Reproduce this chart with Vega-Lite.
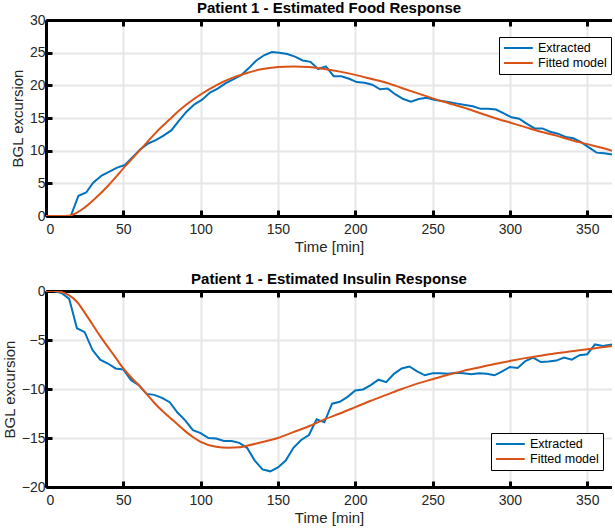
{
  "$schema": "https://vega.github.io/schema/vega-lite/v6.json",
  "padding": {"left": 2, "top": 0, "right": 0, "bottom": 0},
  "background": "white",
  "datasets": {
    "food": [
      {"t": 0, "v": 0, "s": "Extracted"}, {"t": 5, "v": 0, "s": "Extracted"}, {"t": 10, "v": 0, "s": "Extracted"}, {"t": 16, "v": 0, "s": "Extracted"},
      {"t": 21, "v": 3.1, "s": "Extracted"}, {"t": 26, "v": 3.6, "s": "Extracted"}, {"t": 30.5, "v": 5.1, "s": "Extracted"}, {"t": 36, "v": 6.2, "s": "Extracted"},
      {"t": 41, "v": 6.8, "s": "Extracted"}, {"t": 46, "v": 7.4, "s": "Extracted"}, {"t": 51, "v": 7.8, "s": "Extracted"}, {"t": 56, "v": 9.0, "s": "Extracted"},
      {"t": 61, "v": 10.2, "s": "Extracted"}, {"t": 66, "v": 11.1, "s": "Extracted"}, {"t": 71, "v": 11.6, "s": "Extracted"}, {"t": 76, "v": 12.3, "s": "Extracted"},
      {"t": 81, "v": 13.1, "s": "Extracted"}, {"t": 86, "v": 14.6, "s": "Extracted"}, {"t": 91, "v": 16.0, "s": "Extracted"}, {"t": 96, "v": 17.1, "s": "Extracted"},
      {"t": 101, "v": 17.8, "s": "Extracted"}, {"t": 106, "v": 18.9, "s": "Extracted"}, {"t": 111, "v": 19.5, "s": "Extracted"}, {"t": 116, "v": 20.3, "s": "Extracted"},
      {"t": 121, "v": 20.9, "s": "Extracted"}, {"t": 126, "v": 21.5, "s": "Extracted"}, {"t": 131, "v": 22.6, "s": "Extracted"}, {"t": 136, "v": 23.8, "s": "Extracted"},
      {"t": 141, "v": 24.6, "s": "Extracted"}, {"t": 146, "v": 25.1, "s": "Extracted"}, {"t": 151, "v": 25.0, "s": "Extracted"}, {"t": 156, "v": 24.8, "s": "Extracted"},
      {"t": 161, "v": 24.4, "s": "Extracted"}, {"t": 166, "v": 23.8, "s": "Extracted"}, {"t": 171, "v": 23.6, "s": "Extracted"}, {"t": 176, "v": 22.5, "s": "Extracted"},
      {"t": 181, "v": 22.9, "s": "Extracted"}, {"t": 186, "v": 21.4, "s": "Extracted"}, {"t": 191, "v": 21.4, "s": "Extracted"}, {"t": 196, "v": 21.0, "s": "Extracted"},
      {"t": 201, "v": 20.5, "s": "Extracted"}, {"t": 206, "v": 20.4, "s": "Extracted"}, {"t": 211, "v": 20.1, "s": "Extracted"}, {"t": 216, "v": 19.4, "s": "Extracted"},
      {"t": 221, "v": 19.5, "s": "Extracted"}, {"t": 226, "v": 18.6, "s": "Extracted"}, {"t": 231, "v": 17.9, "s": "Extracted"}, {"t": 236, "v": 17.5, "s": "Extracted"},
      {"t": 241, "v": 17.9, "s": "Extracted"}, {"t": 246, "v": 18.1, "s": "Extracted"}, {"t": 251, "v": 17.8, "s": "Extracted"}, {"t": 256, "v": 17.6, "s": "Extracted"},
      {"t": 261, "v": 17.4, "s": "Extracted"}, {"t": 266, "v": 17.2, "s": "Extracted"}, {"t": 271, "v": 17.0, "s": "Extracted"}, {"t": 276, "v": 16.8, "s": "Extracted"},
      {"t": 281, "v": 16.4, "s": "Extracted"}, {"t": 286, "v": 16.4, "s": "Extracted"}, {"t": 291, "v": 16.3, "s": "Extracted"}, {"t": 296, "v": 15.7, "s": "Extracted"},
      {"t": 301, "v": 15.1, "s": "Extracted"}, {"t": 306, "v": 14.9, "s": "Extracted"}, {"t": 311, "v": 14.1, "s": "Extracted"}, {"t": 316, "v": 13.4, "s": "Extracted"},
      {"t": 321, "v": 13.4, "s": "Extracted"}, {"t": 326, "v": 12.9, "s": "Extracted"}, {"t": 331, "v": 12.6, "s": "Extracted"}, {"t": 336, "v": 12.1, "s": "Extracted"},
      {"t": 341, "v": 11.9, "s": "Extracted"}, {"t": 346, "v": 11.3, "s": "Extracted"}, {"t": 351, "v": 10.5, "s": "Extracted"}, {"t": 356, "v": 9.7, "s": "Extracted"},
      {"t": 361, "v": 9.6, "s": "Extracted"}, {"t": 366, "v": 9.4, "s": "Extracted"},
      {"t": 0, "v": 0, "s": "Fitted model"}, {"t": 10, "v": 0, "s": "Fitted model"}, {"t": 15, "v": 0.05, "s": "Fitted model"}, {"t": 20, "v": 0.5, "s": "Fitted model"},
      {"t": 25, "v": 1.3, "s": "Fitted model"}, {"t": 30, "v": 2.3, "s": "Fitted model"}, {"t": 35, "v": 3.4, "s": "Fitted model"}, {"t": 40, "v": 4.6, "s": "Fitted model"},
      {"t": 45, "v": 5.9, "s": "Fitted model"}, {"t": 50, "v": 7.3, "s": "Fitted model"}, {"t": 55, "v": 8.6, "s": "Fitted model"}, {"t": 60, "v": 9.9, "s": "Fitted model"},
      {"t": 65, "v": 11.2, "s": "Fitted model"}, {"t": 70, "v": 12.5, "s": "Fitted model"}, {"t": 75, "v": 13.7, "s": "Fitted model"}, {"t": 80, "v": 14.8, "s": "Fitted model"},
      {"t": 85, "v": 15.9, "s": "Fitted model"}, {"t": 90, "v": 16.9, "s": "Fitted model"}, {"t": 95, "v": 17.8, "s": "Fitted model"}, {"t": 100, "v": 18.6, "s": "Fitted model"},
      {"t": 110, "v": 20.0, "s": "Fitted model"}, {"t": 120, "v": 21.1, "s": "Fitted model"}, {"t": 130, "v": 21.9, "s": "Fitted model"}, {"t": 140, "v": 22.5, "s": "Fitted model"},
      {"t": 150, "v": 22.8, "s": "Fitted model"}, {"t": 160, "v": 22.9, "s": "Fitted model"}, {"t": 170, "v": 22.8, "s": "Fitted model"}, {"t": 180, "v": 22.5, "s": "Fitted model"},
      {"t": 190, "v": 22.1, "s": "Fitted model"}, {"t": 200, "v": 21.6, "s": "Fitted model"}, {"t": 210, "v": 21.0, "s": "Fitted model"}, {"t": 220, "v": 20.4, "s": "Fitted model"},
      {"t": 230, "v": 19.6, "s": "Fitted model"}, {"t": 240, "v": 18.8, "s": "Fitted model"}, {"t": 250, "v": 18.0, "s": "Fitted model"}, {"t": 260, "v": 17.3, "s": "Fitted model"},
      {"t": 270, "v": 16.6, "s": "Fitted model"}, {"t": 280, "v": 15.8, "s": "Fitted model"}, {"t": 290, "v": 15.0, "s": "Fitted model"}, {"t": 300, "v": 14.3, "s": "Fitted model"},
      {"t": 310, "v": 13.6, "s": "Fitted model"}, {"t": 320, "v": 12.9, "s": "Fitted model"}, {"t": 330, "v": 12.3, "s": "Fitted model"}, {"t": 340, "v": 11.6, "s": "Fitted model"},
      {"t": 350, "v": 11.0, "s": "Fitted model"}, {"t": 360, "v": 10.4, "s": "Fitted model"}, {"t": 366, "v": 10.0, "s": "Fitted model"}
    ],
    "insulin": [
      {"t": 0, "v": 0, "s": "Extracted"}, {"t": 5, "v": 0, "s": "Extracted"}, {"t": 10, "v": -0.2, "s": "Extracted"}, {"t": 15, "v": -0.8, "s": "Extracted"},
      {"t": 20, "v": -3.8, "s": "Extracted"}, {"t": 25, "v": -4.2, "s": "Extracted"}, {"t": 30, "v": -6.0, "s": "Extracted"}, {"t": 35, "v": -7.0, "s": "Extracted"},
      {"t": 40, "v": -7.4, "s": "Extracted"}, {"t": 45, "v": -7.9, "s": "Extracted"}, {"t": 50, "v": -8.0, "s": "Extracted"}, {"t": 55, "v": -9.1, "s": "Extracted"},
      {"t": 60, "v": -9.6, "s": "Extracted"}, {"t": 65, "v": -10.5, "s": "Extracted"}, {"t": 70, "v": -10.6, "s": "Extracted"}, {"t": 75, "v": -10.9, "s": "Extracted"},
      {"t": 80, "v": -11.35, "s": "Extracted"}, {"t": 85, "v": -12.4, "s": "Extracted"}, {"t": 90, "v": -13.2, "s": "Extracted"}, {"t": 95, "v": -14.2, "s": "Extracted"},
      {"t": 100, "v": -14.5, "s": "Extracted"}, {"t": 105, "v": -15.0, "s": "Extracted"}, {"t": 110, "v": -15.05, "s": "Extracted"}, {"t": 115, "v": -15.3, "s": "Extracted"},
      {"t": 120, "v": -15.3, "s": "Extracted"}, {"t": 125, "v": -15.5, "s": "Extracted"}, {"t": 130, "v": -16.0, "s": "Extracted"}, {"t": 135, "v": -17.3, "s": "Extracted"},
      {"t": 140, "v": -18.2, "s": "Extracted"}, {"t": 145, "v": -18.4, "s": "Extracted"}, {"t": 150, "v": -18.0, "s": "Extracted"}, {"t": 155, "v": -17.3, "s": "Extracted"},
      {"t": 160, "v": -16.0, "s": "Extracted"}, {"t": 165, "v": -15.2, "s": "Extracted"}, {"t": 170, "v": -14.7, "s": "Extracted"}, {"t": 175, "v": -13.1, "s": "Extracted"},
      {"t": 180, "v": -13.4, "s": "Extracted"}, {"t": 185, "v": -11.5, "s": "Extracted"}, {"t": 190, "v": -11.3, "s": "Extracted"}, {"t": 195, "v": -10.8, "s": "Extracted"},
      {"t": 200, "v": -10.15, "s": "Extracted"}, {"t": 205, "v": -10.05, "s": "Extracted"}, {"t": 210, "v": -9.6, "s": "Extracted"}, {"t": 215, "v": -9.05, "s": "Extracted"},
      {"t": 220, "v": -9.3, "s": "Extracted"}, {"t": 225, "v": -8.45, "s": "Extracted"}, {"t": 230, "v": -7.9, "s": "Extracted"}, {"t": 235, "v": -7.7, "s": "Extracted"},
      {"t": 240, "v": -8.2, "s": "Extracted"}, {"t": 245, "v": -8.6, "s": "Extracted"}, {"t": 250, "v": -8.4, "s": "Extracted"}, {"t": 255, "v": -8.4, "s": "Extracted"},
      {"t": 260, "v": -8.45, "s": "Extracted"}, {"t": 265, "v": -8.35, "s": "Extracted"}, {"t": 270, "v": -8.4, "s": "Extracted"}, {"t": 275, "v": -8.5, "s": "Extracted"},
      {"t": 280, "v": -8.4, "s": "Extracted"}, {"t": 285, "v": -8.45, "s": "Extracted"}, {"t": 290, "v": -8.6, "s": "Extracted"}, {"t": 295, "v": -8.2, "s": "Extracted"},
      {"t": 300, "v": -7.75, "s": "Extracted"}, {"t": 305, "v": -7.85, "s": "Extracted"}, {"t": 310, "v": -7.15, "s": "Extracted"}, {"t": 315, "v": -6.8, "s": "Extracted"},
      {"t": 320, "v": -7.25, "s": "Extracted"}, {"t": 325, "v": -7.2, "s": "Extracted"}, {"t": 330, "v": -7.1, "s": "Extracted"}, {"t": 335, "v": -6.8, "s": "Extracted"},
      {"t": 340, "v": -7.0, "s": "Extracted"}, {"t": 345, "v": -6.55, "s": "Extracted"}, {"t": 350, "v": -6.45, "s": "Extracted"}, {"t": 355, "v": -5.45, "s": "Extracted"},
      {"t": 360, "v": -5.6, "s": "Extracted"}, {"t": 366, "v": -5.45, "s": "Extracted"},
      {"t": 0, "v": 0, "s": "Fitted model"}, {"t": 5, "v": 0, "s": "Fitted model"}, {"t": 10, "v": -0.1, "s": "Fitted model"}, {"t": 15, "v": -0.45, "s": "Fitted model"},
      {"t": 20, "v": -1.1, "s": "Fitted model"}, {"t": 25, "v": -2.2, "s": "Fitted model"}, {"t": 30, "v": -3.4, "s": "Fitted model"}, {"t": 35, "v": -4.6, "s": "Fitted model"},
      {"t": 40, "v": -5.7, "s": "Fitted model"}, {"t": 45, "v": -6.8, "s": "Fitted model"}, {"t": 50, "v": -7.9, "s": "Fitted model"}, {"t": 55, "v": -8.8, "s": "Fitted model"},
      {"t": 60, "v": -9.6, "s": "Fitted model"}, {"t": 65, "v": -10.5, "s": "Fitted model"}, {"t": 70, "v": -11.4, "s": "Fitted model"}, {"t": 75, "v": -12.2, "s": "Fitted model"},
      {"t": 80, "v": -12.9, "s": "Fitted model"}, {"t": 85, "v": -13.6, "s": "Fitted model"}, {"t": 90, "v": -14.3, "s": "Fitted model"}, {"t": 95, "v": -14.9, "s": "Fitted model"},
      {"t": 100, "v": -15.4, "s": "Fitted model"}, {"t": 110, "v": -15.9, "s": "Fitted model"}, {"t": 118, "v": -16.0, "s": "Fitted model"}, {"t": 125, "v": -15.95, "s": "Fitted model"},
      {"t": 130, "v": -15.8, "s": "Fitted model"}, {"t": 140, "v": -15.4, "s": "Fitted model"}, {"t": 150, "v": -15.0, "s": "Fitted model"}, {"t": 160, "v": -14.4, "s": "Fitted model"},
      {"t": 170, "v": -13.8, "s": "Fitted model"}, {"t": 180, "v": -13.1, "s": "Fitted model"}, {"t": 190, "v": -12.5, "s": "Fitted model"}, {"t": 200, "v": -11.85, "s": "Fitted model"},
      {"t": 210, "v": -11.2, "s": "Fitted model"}, {"t": 220, "v": -10.6, "s": "Fitted model"}, {"t": 230, "v": -10.0, "s": "Fitted model"}, {"t": 240, "v": -9.45, "s": "Fitted model"},
      {"t": 250, "v": -9.0, "s": "Fitted model"}, {"t": 260, "v": -8.55, "s": "Fitted model"}, {"t": 270, "v": -8.15, "s": "Fitted model"}, {"t": 280, "v": -7.8, "s": "Fitted model"},
      {"t": 290, "v": -7.45, "s": "Fitted model"}, {"t": 300, "v": -7.15, "s": "Fitted model"}, {"t": 310, "v": -6.85, "s": "Fitted model"}, {"t": 320, "v": -6.6, "s": "Fitted model"},
      {"t": 330, "v": -6.35, "s": "Fitted model"}, {"t": 340, "v": -6.15, "s": "Fitted model"}, {"t": 350, "v": -5.95, "s": "Fitted model"}, {"t": 360, "v": -5.75, "s": "Fitted model"},
      {"t": 366, "v": -5.6, "s": "Fitted model"}
    ]
  },
  "spacing": 75,
  "bounds": "flush",
  "vconcat": [
    {
      "title": "Patient 1 - Estimated Food Response",
      "width": 566,
      "height": 196,
      "data": {"name": "food"},
      "layer": [
        {
          "transform": [{"filter": "datum.s === 'Extracted'"}],
          "mark": {"type": "line", "strokeWidth": 2, "clip": true},
          "encoding": {
            "x": {"field": "t", "type": "quantitative", "scale": {"domain": [0, 366], "nice": false},
                  "axis": {"orient": "bottom", "values": [0, 50, 100, 150, 200, 250, 300, 350], "title": "Time [min]"}},
            "y": {"field": "v", "type": "quantitative", "scale": {"domain": [0, 30], "nice": false},
                  "axis": {"values": [0, 5, 10, 15, 20, 25, 30], "title": "BGL excursion"}},
            "color": {"field": "s", "type": "nominal",
                      "scale": {"domain": ["Extracted", "Fitted model"], "range": ["#0072BD", "#D95319"]},
                      "legend": {"orient": "none", "legendX": 453, "legendY": 17, "title": null}}
          }
        },
        {
          "transform": [{"filter": "datum.s === 'Fitted model'"}],
          "mark": {"type": "line", "strokeWidth": 2, "interpolate": "monotone", "clip": true},
          "encoding": {
            "x": {"field": "t", "type": "quantitative", "scale": {"domain": [0, 366], "nice": false},
                  "axis": {"orient": "top", "values": [0, 50, 100, 150, 200, 250, 300, 350], "labels": false, "title": null, "grid": false}},
            "y": {"field": "v", "type": "quantitative",
                  "axis": {"values": [0, 5, 10, 15, 20, 25, 30], "title": "BGL excursion"}},
            "color": {"field": "s", "type": "nominal"}
          }
        }
      ],
      "resolve": {"axis": {"x": "independent"}}
    },
    {
      "title": "Patient 1 - Estimated Insulin Response",
      "width": 566,
      "height": 196,
      "data": {"name": "insulin"},
      "layer": [
        {
          "transform": [{"filter": "datum.s === 'Extracted'"}],
          "mark": {"type": "line", "strokeWidth": 2, "clip": true},
          "encoding": {
            "x": {"field": "t", "type": "quantitative", "scale": {"domain": [0, 366], "nice": false},
                  "axis": {"orient": "bottom", "values": [0, 50, 100, 150, 200, 250, 300, 350], "title": "Time [min]"}},
            "y": {"field": "v", "type": "quantitative", "scale": {"domain": [-20, 0], "nice": false},
                  "axis": {"values": [-20, -15, -10, -5, 0], "title": "BGL excursion"}},
            "color": {"field": "s", "type": "nominal",
                      "scale": {"domain": ["Extracted", "Fitted model"], "range": ["#0072BD", "#D95319"]},
                      "legend": {"orient": "none", "legendX": 445, "legendY": 142, "title": null}}
          }
        },
        {
          "transform": [{"filter": "datum.s === 'Fitted model'"}],
          "mark": {"type": "line", "strokeWidth": 2, "interpolate": "monotone", "clip": true},
          "encoding": {
            "x": {"field": "t", "type": "quantitative", "scale": {"domain": [0, 366], "nice": false},
                  "axis": {"orient": "top", "values": [0, 50, 100, 150, 200, 250, 300, 350], "labels": false, "title": null, "grid": false}},
            "y": {"field": "v", "type": "quantitative",
                  "axis": {"values": [-20, -15, -10, -5, 0], "title": "BGL excursion"}},
            "color": {"field": "s", "type": "nominal"}
          }
        }
      ],
      "resolve": {"axis": {"x": "independent"}}
    }
  ],
  "resolve": {"scale": {"color": "independent"}, "legend": {"color": "independent"}},
  "config": {
    "font": "Liberation Sans",
    "view": {"stroke": null},
    "title": {"fontSize": 15, "fontWeight": "bold", "color": "#000", "offset": -2.5, "frame": "group", "font": "Liberation Sans"},
    "axis": {
      "domainColor": "#000", "domainWidth": 3,
      "tickColor": "#000", "tickWidth": 3, "tickSize": -6, "ticks": true,
      "gridColor": "#e6e6e6", "gridWidth": 2,
      "labelFont": "Liberation Sans", "labelFontSize": 14, "labelColor": "#262626",
      "titleFont": "Liberation Sans", "titleFontSize": 15, "titleFontWeight": "normal", "titleColor": "#262626"
    },
    "axisX": {"labelPadding": 12.5, "titlePadding": 3},
    "axisY": {"labelPadding": 7, "titlePadding": 4},
    "legend": {
      "labelFont": "Liberation Sans", "labelFontSize": 12.5, "labelColor": "#000",
      "symbolType": "M-1,0H3.8", "symbolSize": 144, "symbolStrokeWidth": 2, "symbolFillColor": "transparent",
      "strokeColor": "#000", "fillColor": "#fff", "padding": 4, "rowPadding": 1, "labelOffset": 21,
      "encode": {"legend": {"update": {"strokeWidth": {"value": 3}}}}
    }
  }
}
